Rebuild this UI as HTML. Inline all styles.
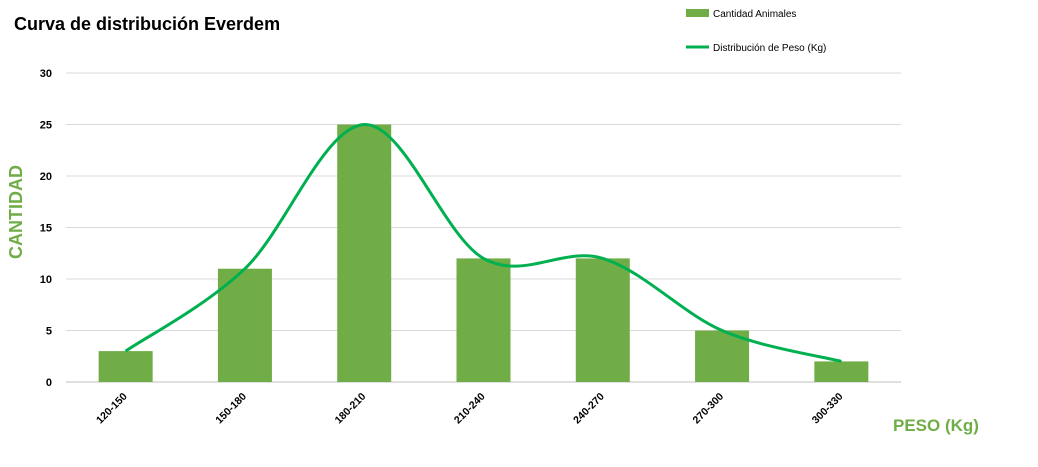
<!DOCTYPE html>
<html><head><meta charset="utf-8"><style>
body{margin:0;background:#fff;font-family:"Liberation Sans",Arial,sans-serif}
svg{display:block}
</style></head><body>
<svg id="chart" width="1038" height="467">
<text x="14" y="30" font-size="18" font-weight="bold" fill="#000">Curva de distribución Everdem</text>
<g id="grid"></g><g id="bars"></g><g id="line"></g><g id="xlabels"></g>
<text transform="translate(22,212) rotate(-90)" text-anchor="middle" font-size="18" font-weight="bold" fill="#70ad47">CANTIDAD</text>
<text x="893" y="431" font-size="17" font-weight="bold" fill="#70ad47">PESO (Kg)</text>
<g>
<rect x="686" y="9" width="23" height="8" fill="#70ad47"/>
<text x="713" y="17" font-size="10" fill="#000">Cantidad Animales</text>
<line x1="686" y1="47" x2="709" y2="47" stroke="#00b050" stroke-width="3"/>
<text x="713" y="51" font-size="10" fill="#000">Distribución de Peso (Kg)</text>
</g>
</svg>
<script>
const categories=["120-150","150-180","180-210","210-240","240-270","270-300","300-330"];
const counts=[3,11,25,12,12,5,2];
const yTicks=[0,5,10,15,20,25,30];
const NS="http://www.w3.org/2000/svg";
const x0=66,x1=901,yb=382,yt=73,ymax=30;
const band=(x1-x0)/categories.length;
function xc(i){return x0+band*(i+0.5);}
function ys(v){return yb-(v/ymax)*(yb-yt);}
function mk(t,a,p){const e=document.createElementNS(NS,t);for(const k in a)e.setAttribute(k,a[k]);document.getElementById(p).appendChild(e);return e;}
yTicks.forEach(v=>{
 const l=mk("line",{x1:x0,x2:x1,y1:ys(v),y2:ys(v),stroke:v===0?"#bfbfbf":"#d9d9d9","stroke-width":1},"grid");
 
 
 const t=mk("text",{x:52,y:ys(v)+4,"text-anchor":"end","font-size":"11","font-weight":"bold",fill:"#000"},"grid");
 t.textContent=v;
 
 
});
const bw=54;
counts.forEach((v,i)=>{
 const r=mk("rect",{x:xc(i)-bw/2,y:ys(v),width:bw,height:yb-ys(v),fill:"#70ad47"},"bars");
 
 
 const t=mk("text",{transform:`translate(${xc(i)+2},${yb+15}) rotate(-45)`,"text-anchor":"end","font-size":"10.5","font-weight":"bold",fill:"#000"},"xlabels");
 t.textContent=categories[i];
 
 
});
const pts=counts.map((v,i)=>[xc(i),ys(v)]);
let d="M"+pts[0][0]+","+pts[0][1];
for(let i=0;i<pts.length-1;i++){
 const p0=pts[i-1]||pts[i],p1=pts[i],p2=pts[i+1],p3=pts[i+2]||p2,k=1/3;
 const c1=[p1[0]+(p2[0]-p0[0])*k/2,p1[1]+(p2[1]-p0[1])*k/2];
 const c2=[p2[0]-(p3[0]-p1[0])*k/2,p2[1]-(p3[1]-p1[1])*k/2];
 d+=` C${c1[0]},${c1[1]} ${c2[0]},${c2[1]} ${p2[0]},${p2[1]}`;
}
const path=mk("path",{d:d,fill:"none",stroke:"#00b050","stroke-width":3},"line");


</script>
</body></html>
